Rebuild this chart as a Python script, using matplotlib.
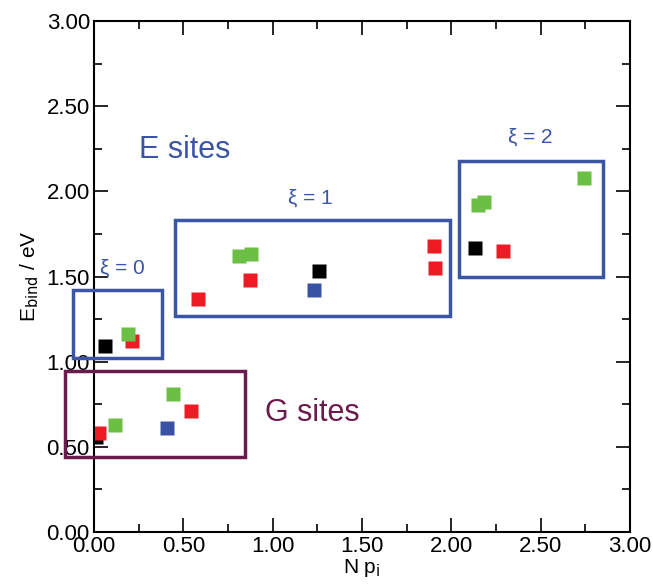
import matplotlib
matplotlib.use("Agg")
import matplotlib.pyplot as plt
from matplotlib.patches import Rectangle
from matplotlib.ticker import MultipleLocator, FormatStrFormatter

plt.rcParams['font.family'] = ['Liberation Sans', 'DejaVu Sans']

# points (N p_i, E_bind)
black_x = [0.01, 0.06, 1.26, 2.13]
black_y = [0.56, 1.09, 1.53, 1.67]
red_x = [0.03, 0.54, 0.21, 0.58, 0.87, 1.90, 1.91, 2.29]
red_y = [0.58, 0.71, 1.12, 1.37, 1.48, 1.68, 1.55, 1.65]
green_x = [0.12, 0.44, 0.19, 0.81, 0.88, 2.15, 2.18, 2.74]
green_y = [0.63, 0.81, 1.16, 1.62, 1.63, 1.92, 1.94, 2.08]
blue_x = [0.41, 1.23]
blue_y = [0.61, 1.42]

# boxes: (x0, y0, x1, y1)
box_xi0 = (-0.12, 1.02, 0.38, 1.42)
box_xi1 = (0.455, 1.27, 1.99, 1.83)
box_xi2 = (2.04, 1.50, 2.85, 2.18)
box_g = (-0.16, 0.44, 0.845, 0.945)

c_blue = '#3a55a4'
c_purple = '#6a1a4c'

fig = plt.figure(figsize=(6.53, 5.84), dpi=100)
ax = fig.add_axes([0.144, 0.089, 0.821, 0.875])

ms = 10
ax.plot(black_x, black_y, 's', color='black', ms=ms, mec='none')
ax.plot(red_x, red_y, 's', color='#ed1c24', ms=ms, mec='none')
ax.plot(green_x, green_y, 's', color='#6bbf44', ms=ms, mec='none')
ax.plot(blue_x, blue_y, 's', color='#3a52a3', ms=ms, mec='none')

for b, col in [(box_xi0, c_blue), (box_xi1, c_blue), (box_xi2, c_blue), (box_g, c_purple)]:
    ax.add_patch(Rectangle((b[0], b[1]), b[2] - b[0], b[3] - b[1], fill=False,
                           edgecolor=col, lw=2.5, clip_on=False, zorder=5))

ax.text(0.51, 2.24, 'E sites', color=c_blue, fontsize=22, ha='center', va='center')
ax.text(1.22, 0.70, 'G sites', color=c_purple, fontsize=22, ha='center', va='center')
ax.text(0.16, 1.55, 'ξ = 0', color=c_blue, fontsize=15, ha='center', va='center')
ax.text(1.21, 1.96, 'ξ = 1', color=c_blue, fontsize=15, ha='center', va='center')
ax.text(2.44, 2.32, 'ξ = 2', color=c_blue, fontsize=15, ha='center', va='center')

ax.set_xlim(0, 3)
ax.set_ylim(0, 3)
ax.xaxis.set_major_locator(MultipleLocator(0.5))
ax.xaxis.set_minor_locator(MultipleLocator(0.25))
ax.yaxis.set_major_locator(MultipleLocator(0.5))
ax.yaxis.set_minor_locator(MultipleLocator(0.25))
ax.xaxis.set_major_formatter(FormatStrFormatter('%.2f'))
ax.yaxis.set_major_formatter(FormatStrFormatter('%.2f'))
ax.tick_params(which='both', direction='in', top=True, right=True, labelsize=16, width=1.2)
ax.tick_params(which='major', length=10, pad=3)
ax.tick_params(which='minor', length=6)
for s in ax.spines.values():
    s.set_linewidth(1.5)

ax.set_xlabel(r'N p$_{\rm i}$', fontsize=15, labelpad=0)
ax.set_ylabel(r'E$_{\rm bind}$ / eV', fontsize=15, labelpad=4)

fig.savefig('out.png', dpi=100)
